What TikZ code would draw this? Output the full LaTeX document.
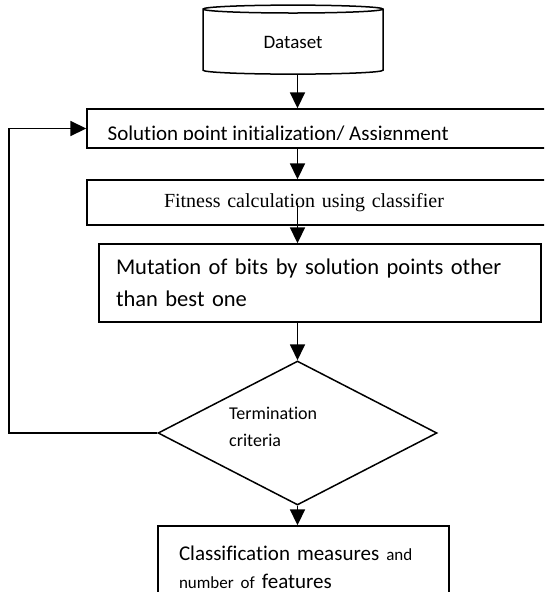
\documentclass[tikz,border=0pt]{standalone}
\usepackage{fontspec}
\setmainfont{Carlito}[Ligatures=NoCommon]
\newfontfamily\serifface{Liberation Serif}[Ligatures=NoCommon]
\usepackage{tikz}
\usetikzlibrary{positioning,shapes.geometric,arrows.meta}
\tikzstyle{arrow} = [line width=1.8pt,-{Triangle[width=15pt,length=16pt]}]
\tikzstyle{procbox} = [rectangle, draw=black, line width=1.4pt, fill=white, align=left, inner ysep=0pt]
\tikzstyle{decision} = [diamond, draw=black, line width=1.5pt, fill=white, inner sep=0pt]
\tikzstyle{store} = [cylinder, shape border rotate=90, draw=black, line width=1.5pt, fill=white]

\begin{document}
\begin{tikzpicture}[x=1pt,y=-1pt]
\clip (0,0) rectangle (544,592);
\node (data) [store, aspect=0.12, minimum width=180pt, minimum height=69pt, font=\fontsize{19}{23}\selectfont] at (293,42.5) {Dataset};
\node (init) [procbox, minimum width=459pt, minimum height=39pt] at (316.5,128.5) {};
\begin{scope}
	\clip (init.north west) rectangle ([yshift=9.5pt]init.south east);
	\node (inittext) [inner sep=0pt, anchor=base west, font=\fontsize{21}{25}\selectfont] at (107.5,140) {Solution point initialization/ Assignment};
\end{scope}
\node (fit) [procbox, minimum width=459pt, minimum height=45pt, inner xsep=77pt, text width=305pt, font=\serifface\fontsize{20}{25}\selectfont] at (316.5,202.5) {Fitness calculation using classifier};
\node (mut) [procbox, minimum width=442pt, minimum height=78pt, inner xsep=17pt, text width=408pt, font=\fontsize{22.5}{32}\selectfont] at (320,283) {Mutation of bits by solution points other\\than best one};
\node (term) [decision, minimum width=279pt, minimum height=144pt] at (297.5,433) {};
\node (termtext) [inner sep=0pt, anchor=north west, align=left, font=\fontsize{18}{27}\selectfont] at (229,406.5) {Termination\\criteria};
\node (result) [procbox, minimum width=291pt, minimum height=82pt, inner xsep=21pt, text width=249pt, font=\fontsize{21}{28}\selectfont] at (303.5,567) {Classification measures {\fontsize{17}{28}\selectfont and}\\{\fontsize{17}{28}\selectfont number of} features};
\draw[arrow] (data.south -| term.north) -- (init.north -| term.north);
\draw[arrow] (init.south -| term.north) -- (fit.north -| term.north);
\draw[arrow] (fit.center -| term.north) -- (mut.north -| term.north);
\draw[arrow] (mut.south -| term.north) -- (term.north);
\draw[arrow] (term.south) -- (result.north -| term.south);
\draw[arrow] (term.west) -- ++(-148,0) |- (init.west);
\end{tikzpicture}
\end{document}
